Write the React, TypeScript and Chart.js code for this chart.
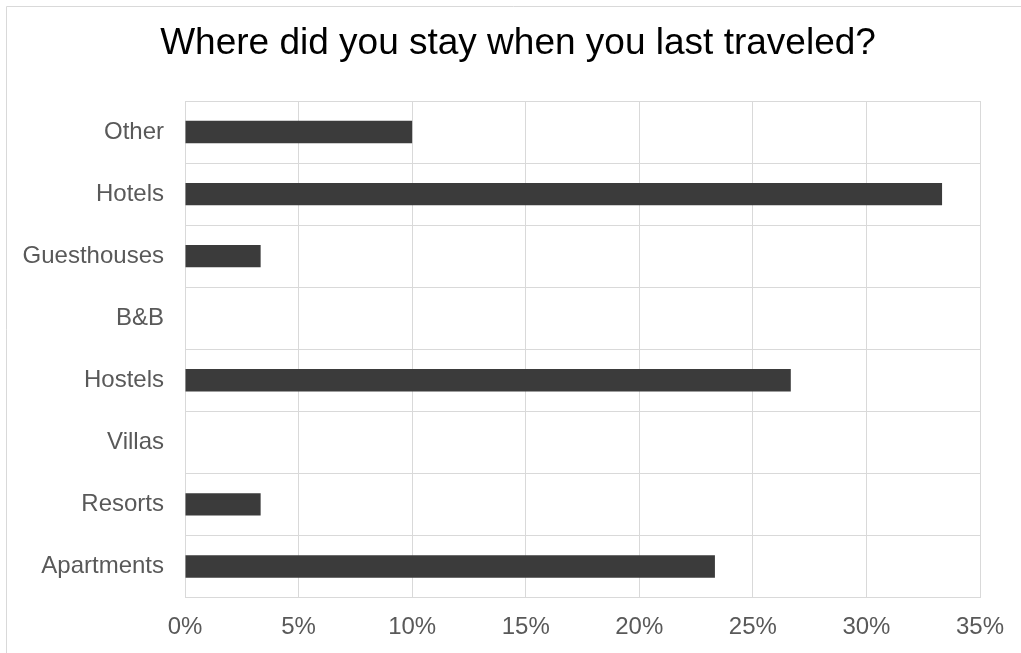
import React, { useEffect, useRef } from "react";
import { Chart, registerables } from "chart.js";

Chart.register(...registerables);

const categories = ["Other", "Hotels", "Guesthouses", "B&B", "Hostels", "Villas", "Resorts", "Apartments"];
const shares = [10, 33.33, 3.33, 0, 26.67, 0, 3.33, 23.33];
const xTicks = [0, 5, 10, 15, 20, 25, 30, 35];
const titleText = "Where did you stay when you last traveled?";

const FONT = "'Liberation Sans', Arial, sans-serif";
const GRID = "#d9d9d9";

const outerBorder = {
  id: "outerBorder",
  beforeDraw(chart: any) {
    const ctx = chart.ctx;
    ctx.save();
    ctx.strokeStyle = GRID;
    ctx.lineWidth = 1;
    ctx.beginPath();
    ctx.moveTo(6.5, chart.height);
    ctx.lineTo(6.5, 6.5);
    ctx.lineTo(chart.width, 6.5);
    ctx.stroke();
    ctx.restore();
  },
};

export default function App() {
  const ref = useRef<HTMLCanvasElement>(null);

  useEffect(() => {
    if (!ref.current) return;
    const chart = new Chart(ref.current, {
      type: "bar",
      data: {
        labels: categories,
        datasets: [
          {
            data: shares,
            backgroundColor: "#3b3b3b",
            borderWidth: 0,
            categoryPercentage: 1,
            barPercentage: 0.36,
          },
        ],
      },
      options: {
        indexAxis: "y",
        responsive: false,
        animation: false,
        layout: { padding: { left: 15, right: 0, top: 20, bottom: 0 } },
        plugins: {
          legend: { display: false },
          tooltip: { enabled: false },
          title: {
            display: true,
            text: titleText,
            color: "#000000",
            font: { family: FONT, size: 37, weight: "normal", lineHeight: 1.2 },
            padding: { top: 2, bottom: 34.6 },
          },
        },
        scales: {
          x: {
            min: 0,
            max: 35,
            afterBuildTicks(scale: any) {
              scale.ticks = xTicks.map((v) => ({ value: v }));
            },
            afterFit(scale: any) {
              scale.height = 55.5;
            },
            ticks: {
              color: "#595959",
              font: { family: FONT, size: 24 },
              padding: 15,
              callback: (v: any) => v + "%",
              maxRotation: 0,
            },
            grid: { color: GRID, lineWidth: 1, drawTicks: false },
            border: { color: GRID },
          },
          y: {
            afterFit(scale: any) {
              scale.width = 170;
            },
            ticks: {
              color: "#595959",
              font: { family: FONT, size: 24 },
              padding: 21,
            },
            grid: { color: GRID, lineWidth: 1, drawTicks: false, offset: true },
            border: { color: GRID },
          },
          spacer: {
            type: "linear",
            position: "right",
            axis: "y",
            afterFit(scale: any) {
              scale.width = 41;
            },
            ticks: { display: false },
            grid: { display: false, drawTicks: false },
            border: { display: false },
          },
        },
      },
      plugins: [outerBorder],
    });
    return () => chart.destroy();
  }, []);

  return (
    <div style={{ position: "fixed", left: 0, top: 0, width: 1021, height: 653, background: "#fff" }}>
      <canvas ref={ref} width={1021} height={653} style={{ display: "block" }} />
    </div>
  );
}
